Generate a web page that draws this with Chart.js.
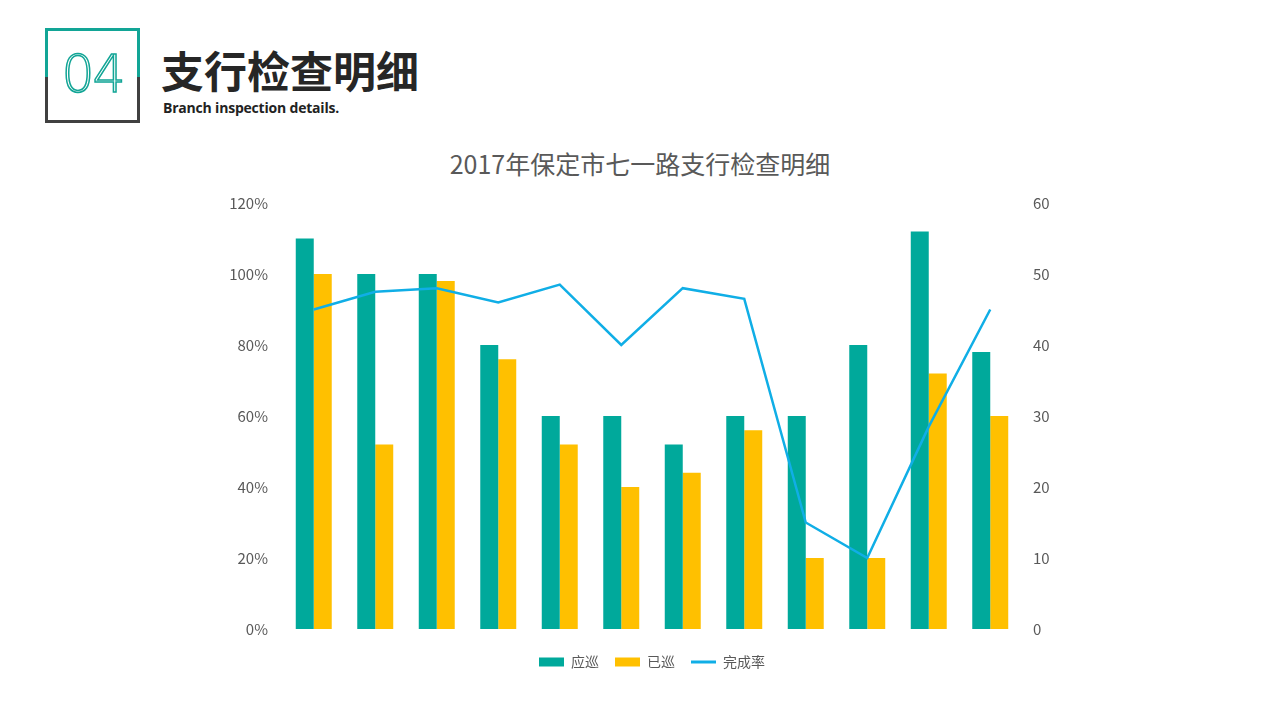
<!DOCTYPE html>
<html>
<head>
<meta charset="utf-8">
<script src="https://cdn.jsdelivr.net/npm/chart.js@4.4.0/dist/chart.umd.min.js"></script>
<style>
  body { margin: 0; width: 1280px; height: 720px; background: #fff; overflow: hidden; position: relative;
         font-family: "Noto Sans CJK SC", "Noto Sans", sans-serif; }
  #box { position: absolute; left: 45px; top: 28px; width: 95px; height: 95px; }
  #box .top { position: absolute; left: 0; top: 0; width: 89px; height: 46px; border: 3px solid #12a596; border-bottom: none; }
  #box .bot { position: absolute; left: 0; top: 49px; width: 89px; height: 43px; border: 3px solid #404040; border-top: none; }
  #num { position: absolute; left: 45px; top: 44px; width: 95px; text-align: center; font-family: "DejaVu Sans", sans-serif;
         font-size: 52px; font-weight: 300; color: #fff; -webkit-text-stroke: 1.5px #12a596; letter-spacing: -2px; }
  #head { position: absolute; left: 161px; top: 38px; font-size: 43px; font-weight: bold; color: #262626; }
  #sub { position: absolute; left: 163px; top: 98px; font-family: "Open Sans", sans-serif; font-size: 14px; font-weight: bold;
         color: #222; letter-spacing: -0.2px; }
  #title { position: absolute; left: 0; width: 1280px; top: 145px; text-align: center; font-size: 25px; color: #595959; }
  #wrap { position: absolute; left: 0; top: 0; width: 1280px; height: 720px; }
</style>
</head>
<body>
<div id="box"><div class="top"></div><div class="bot"></div></div>
<div id="num">04</div>
<div id="head">支行检查明细</div>
<div id="sub">Branch inspection details.</div>
<div id="title">2017年保定市七一路支行检查明细</div>
<div id="wrap"><canvas id="myChart" width="1280" height="720"></canvas></div>
<script>
const branches = ['1', '2', '3', '4', '5', '6', '7', '8', '9', '10', '11', '12'];
const planned = [55, 50, 50, 40, 30, 30, 26, 30, 30, 40, 56, 39];
const done = [50, 26, 49, 38, 26, 20, 22, 28, 10, 10, 36, 30];
const rate = [0.90, 0.95, 0.96, 0.92, 0.97, 0.80, 0.96, 0.93, 0.30, 0.20, 0.57, 0.90];

const textColor = '#595959';
const tickFont = { family: '"Noto Sans CJK SC", sans-serif', size: 15 };

const ctx = document.getElementById('myChart').getContext('2d');
new Chart(ctx, {
  data: {
    labels: branches,
    datasets: [
      {
        type: 'line',
        label: '完成率',
        data: rate,
        yAxisID: 'yRate',
        borderColor: '#10aee6',
        backgroundColor: '#10aee6',
        borderWidth: 2.5,
        pointRadius: 0,
        tension: 0,
        order: 0,
      },
      {
        type: 'bar',
        label: '应巡',
        data: planned,
        yAxisID: 'yCount',
        backgroundColor: '#00a99b',
        categoryPercentage: 0.585,
        barPercentage: 1,
        order: 1,
      },
      {
        type: 'bar',
        label: '已巡',
        data: done,
        yAxisID: 'yCount',
        backgroundColor: '#ffc000',
        categoryPercentage: 0.585,
        barPercentage: 1,
        order: 1,
      },
    ],
  },
  options: {
    responsive: false,
    animation: false,
    layout: { padding: { top: 203, left: 223, right: 199, bottom: 41 } },
    scales: {
      x: {
        ticks: { display: false },
        grid: { display: false },
        border: { display: false },
        afterFit: (s) => { s.height = 10; },
      },
      yRate: {
        position: 'left',
        min: 0,
        max: 1.2,
        ticks: {
          stepSize: 0.2,
          padding: 15,
          color: textColor,
          font: tickFont,
          callback: (v) => Math.round(v * 100) + '%',
        },
        grid: { display: false, drawTicks: false },
        border: { display: false },
        afterFit: (s) => { s.width = 60; },
      },
      yCount: {
        position: 'right',
        min: 0,
        max: 60,
        ticks: { stepSize: 10, padding: 12, color: textColor, font: tickFont },
        grid: { display: false, drawTicks: false },
        border: { display: false },
        afterFit: (s) => { s.width = 60; },
      },
    },
    plugins: {
      title: { display: false },
      tooltip: { enabled: false },
      legend: {
        position: 'bottom',
        labels: {
          color: textColor,
          font: { family: '"Noto Sans CJK SC", sans-serif', size: 14 },
          boxHeight: 9,
          usePointStyle: true,
          pointStyleWidth: 25,
          padding: 16,
          sort: (a, b) => a.datasetIndex === 0 ? 1 : (b.datasetIndex === 0 ? -1 : a.datasetIndex - b.datasetIndex),
          generateLabels: (chart) => {
            const items = Chart.defaults.plugins.legend.labels.generateLabels(chart);
            items.forEach((it) => {
              const ds = chart.data.datasets[it.datasetIndex];
              if (ds.type === 'line') {
                it.pointStyle = 'line';
                it.lineWidth = 3;
                it.strokeStyle = ds.borderColor;
              } else {
                it.pointStyle = 'rect';
                it.lineWidth = 0;
              }
            });
            return items;
          },
        },
      },
    },
  },
});
</script>
</body>
</html>
